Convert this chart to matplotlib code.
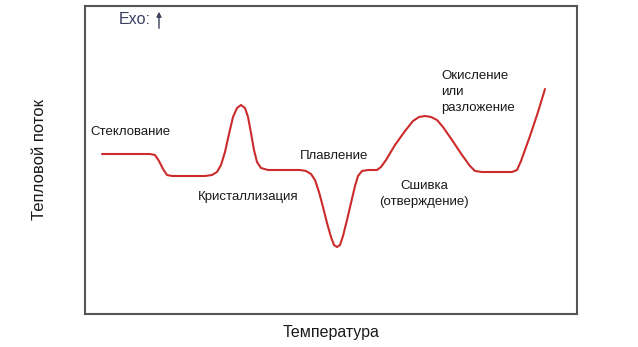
import matplotlib
matplotlib.use('Agg')
import matplotlib.pyplot as plt

# DSC curve, arbitrary units
temp = [17, 65, 70, 74, 78, 82, 87, 120, 127, 132, 136, 140, 144, 148, 152, 156, 160, 163, 166, 169,
        172, 176, 183, 215, 221, 226, 230, 234, 238, 242, 246, 249, 252, 255, 258, 262, 266, 270, 273,
        277, 283, 292, 296, 301, 310, 320, 328, 334, 340, 346, 352, 358, 367, 377, 385, 390, 397, 427,
        432, 436, 445, 453, 460]
heat = [160, 160, 159, 153, 145, 139, 138, 138, 139, 142, 149, 162, 180, 197, 206, 209, 206, 197, 181, 164,
        152, 146, 144, 144, 143, 140, 134, 122, 107, 91, 77, 69, 67, 69, 78, 94, 111, 128, 138,
        143, 144, 144, 147, 154, 169, 183, 193, 197, 198, 197, 194, 187, 174, 159, 148, 143, 142, 142,
        144, 153, 178, 202, 225]

labels = ['Стеклование', 'Кристаллизация', 'Плавление', 'Сшивка\n(отверждение)',
          'Окисление\nили\nразложение']
label_x = [5, 113, 215, 339, 356]
label_y = [182, 117, 158, 120, 222]
label_ha = ['left', 'left', 'left', 'center', 'left']

plt.rcParams['font.family'] = ['Liberation Sans', 'DejaVu Sans']

fig = plt.figure(figsize=(6.38, 3.47), dpi=100)
ax = fig.add_axes([85 / 638, 1 - 314 / 347, 492 / 638, 308 / 347])

ax.plot(temp, heat, color='#cc2b2b', lw=1.5, solid_capstyle='round', solid_joinstyle='round')
ax.set_xlim(0, 492)
ax.set_ylim(0, 308)

for s, x, y, ha in zip(labels, label_x, label_y, label_ha):
    ax.text(x, y, s, ha=ha, va='center', multialignment=ha, fontsize=9.5,
            color='#1a1a1a', linespacing=1.45)

# Exo marker
ax.text(34, 294, 'Exo:', ha='left', va='center', fontsize=11.5, color='#3a3f5e')
ax.annotate('', xy=(74, 305), xytext=(74, 283),
            arrowprops=dict(arrowstyle='-|>', color='#3a3f5e', lw=1.0, mutation_scale=7))

ax.set_xticks([])
ax.set_yticks([])
for sp in ax.spines.values():
    sp.set_color('#555555')
    sp.set_linewidth(1.5)

ax.set_xlabel('Температура', fontsize=11.5, labelpad=8, color='#1a1a1a')
ax.set_ylabel('Тепловой поток', fontsize=12, labelpad=27, color='#1a1a1a')

fig.savefig('out.png', dpi=100)
